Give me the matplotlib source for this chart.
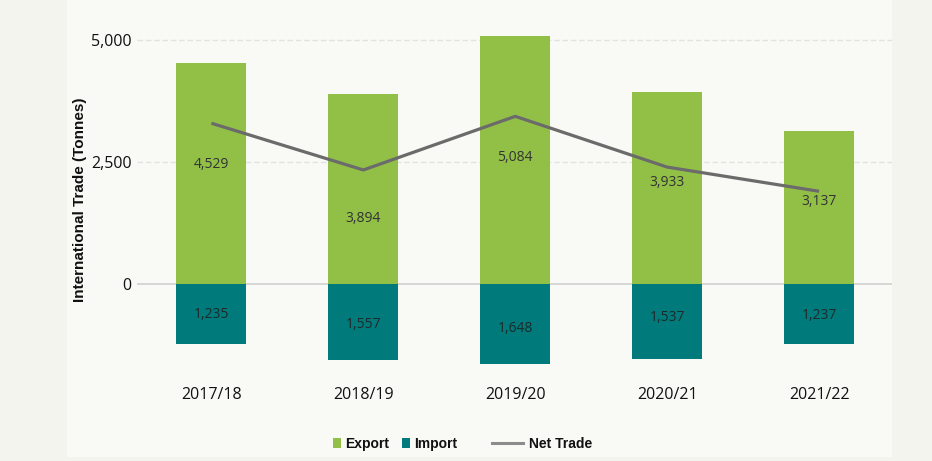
import matplotlib.pyplot as plt
from matplotlib.patches import Patch
from matplotlib.lines import Line2D
from matplotlib.ticker import FuncFormatter

years = ["2017/18", "2018/19", "2019/20", "2020/21", "2021/22"]
export = [4529, 3894, 5084, 3933, 3137]
imports = [1235, 1557, 1648, 1537, 1237]
net_trade = [e - i for e, i in zip(export, imports)]

# label heights (layout only, picked to dodge the line like the original)
export_label_y = [2459, 1352, 2602, 2070, 1701]
import_label_y = [-615, -820, -902, -676, -635]

green = "#92c047"
teal = "#007a7a"
grey = "#6b6b6b"

W, H = 932, 461
fig = plt.figure(figsize=(W / 100, H / 100), dpi=100)
fig.patch.set_facecolor("#f4f4ef")

# background strips / panel as empty axes underneath
strip = fig.add_axes([0, 0, 8 / W, 1], zorder=-10)
strip.set_facecolor("#fbfbfa")
strip.axis("off")
strip.patch.set_visible(True)
panel = fig.add_axes([67 / W, 4 / H, (892 - 67) / W, 1 - 4 / H], zorder=-10)
panel.set_facecolor("#f9f9f5")
panel.set_xticks([])
panel.set_yticks([])
for s in panel.spines.values():
    s.set_visible(False)

# axes: x from 137 to 892 px, y from 30 to 370 px
ax = fig.add_axes([137 / W, 1 - 370 / H, (892 - 137) / W, 340 / H])
ax.set_facecolor("none")

x = list(range(len(years)))
ax.bar(x, export, width=0.46, color=green, zorder=2)
ax.bar(x, [-v for v in imports], width=0.46, color=teal, zorder=2)
ax.plot(x, net_trade, color=grey, lw=2.3, zorder=3, solid_capstyle="butt")

for i in x:
    ax.text(i, export_label_y[i], f"{export[i]:,}", ha="center", va="center",
            fontsize=10, color="#333333", family="Open Sans", zorder=4)
    ax.text(i, import_label_y[i], f"{imports[i]:,}", ha="center", va="center",
            fontsize=10, color="#1f2a2a", family="Open Sans", zorder=4)

ax.set_xlim(-0.49, 4.48)
ax.set_ylim(-1762, 5205)
ax.set_yticks([0, 2500, 5000])
ax.yaxis.set_major_formatter(FuncFormatter(lambda v, p: f"{int(v):,}"))
ax.set_xticks(x)
ax.set_xticklabels(years)
ax.tick_params(axis="both", length=0, labelsize=11.5, colors="#111111")
ax.tick_params(axis="x", pad=12)
ax.tick_params(axis="y", pad=4)
for lab in ax.get_xticklabels() + ax.get_yticklabels():
    lab.set_family("Open Sans")

for y in [2500, 5000]:
    ax.axhline(y, color="#e2e2e0", lw=1, ls=(0, (4, 2)), zorder=1)
ax.axhline(0, color="#cfcfcf", lw=1.2, zorder=1)
for s in ax.spines.values():
    s.set_visible(False)

fig.text(80 / W, 1 - 200 / H, "International Trade (Tonnes)", rotation=90,
         ha="center", va="center", fontsize=11, fontweight="bold",
         family="Liberation Sans", color="#111111")

legend_font = {"family": "Liberation Sans", "weight": "bold", "size": 10}
bar_handles = [Patch(facecolor=green, label="Export"),
               Patch(facecolor=teal, label="Import")]
leg1 = fig.legend(handles=bar_handles, loc="center left",
                  bbox_to_anchor=(333 / W, 1 - 444 / H),
                  ncol=2, frameon=False, handlelength=0.55, handleheight=0.7,
                  handletextpad=0.35, columnspacing=0.9, borderpad=0,
                  borderaxespad=0, prop=legend_font)
line_handles = [Line2D([], [], color="#8c8c8c", lw=2.2, label="Net Trade")]
leg2 = fig.legend(handles=line_handles, loc="center left",
                  bbox_to_anchor=(492 / W, 1 - 444 / H),
                  frameon=False, handlelength=2.2, handletextpad=0.45,
                  borderpad=0, borderaxespad=0, prop=legend_font)
for leg in (leg1, leg2):
    for t in leg.get_texts():
        t.set_color("#111111")

fig.savefig("out.png", dpi=100, facecolor=fig.get_facecolor())
